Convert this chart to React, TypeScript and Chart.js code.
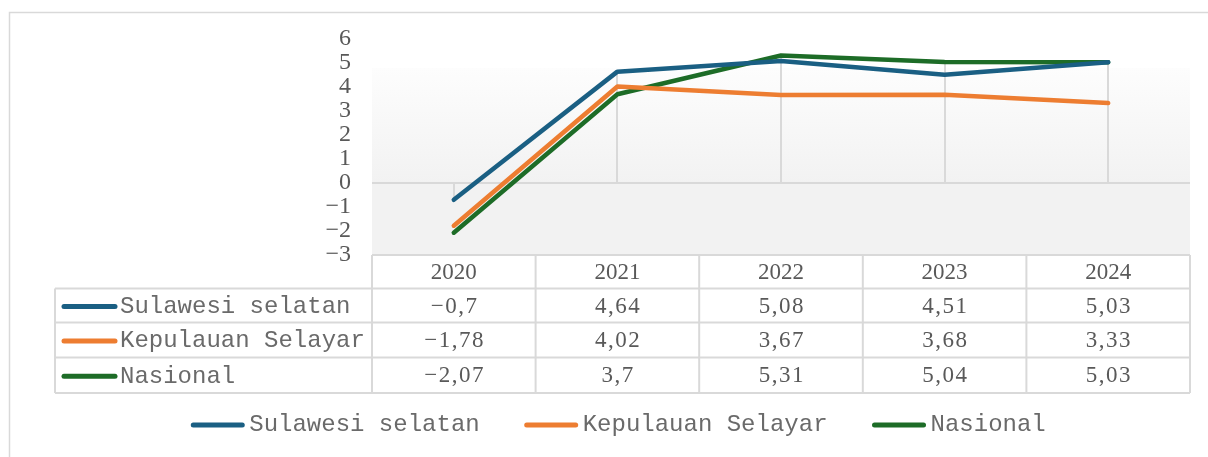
import React, { useEffect, useRef } from "react";
import { Chart, registerables } from "chart.js";

Chart.register(...registerables);

const CATEGORIES = ["2020", "2021", "2022", "2023", "2024"];
const SULSEL = [-0.7, 4.64, 5.08, 4.51, 5.03];
const SELAYAR = [-1.78, 4.02, 3.67, 3.68, 3.33];
const NASIONAL = [-2.07, 3.7, 5.31, 5.04, 5.03];
const SERIES_NAMES = ["Sulawesi selatan", "Kepulauan Selayar", "Nasional"];
const SERIES_COLORS = ["#1a5f83", "#ed7d31", "#1d6c27"];
const Y_MIN = -3;
const Y_MAX = 6;
const Y_STEP = 1;

const GRID = "#d9d9d9";
const TEXT = "#595959";
const MONO_TEXT = "#6a6a6a";
const SERIF = "'Liberation Serif', 'Times New Roman', serif";
const MONO = "'Liberation Mono', 'Courier New', monospace";

const fmt = (v: number) => String(v).replace(".", ",").replace("-", "\u2212");

const extrasPlugin = {
  id: "excelExtras",
  beforeDraw(chart: any) {
    const { ctx, chartArea: ca, scales } = chart;
    const y = scales.y;
    const y0 = y.getPixelForValue(0);
    ctx.save();
    ctx.strokeStyle = GRID;
    ctx.lineWidth = 1.5;
    ctx.strokeRect(9.5, 12.5, 1400, 800);
    const gTop = 68;
    const g = ctx.createLinearGradient(0, gTop, 0, y0);
    g.addColorStop(0, "#fdfdfd");
    g.addColorStop(1, "#f2f2f2");
    ctx.fillStyle = g;
    ctx.fillRect(ca.left, gTop, ca.right - ca.left, y0 - gTop);
    ctx.fillStyle = "#f2f2f2";
    ctx.fillRect(ca.left, y0, ca.right - ca.left, ca.bottom - y0);
    ctx.restore();
  },
  beforeDatasetsDraw(chart: any) {
    const { ctx, scales } = chart;
    const { x, y } = scales;
    const y0 = y.getPixelForValue(0);
    ctx.save();
    ctx.strokeStyle = GRID;
    ctx.lineWidth = 2;
    CATEGORIES.forEach((_, i) => {
      const mx = Math.max(...chart.data.datasets.map((d: any) => d.data[i]));
      const px = Math.round(x.getPixelForValue(i));
      ctx.beginPath();
      ctx.moveTo(px, y.getPixelForValue(mx));
      ctx.lineTo(px, y0);
      ctx.stroke();
    });
    ctx.restore();
  },
  afterDraw(chart: any) {
    const { ctx, chartArea: ca, scales } = chart;
    const { x } = scales;
    const colW = x.getPixelForValue(1) - x.getPixelForValue(0);
    const nameLeft = 55;
    const rowTops = [255, 288.5, 322.5, 357.5, 393];
    const series = [SULSEL, SELAYAR, NASIONAL];
    ctx.save();
    ctx.strokeStyle = GRID;
    ctx.lineWidth = 2;
    rowTops.forEach((t, r) => {
      ctx.beginPath();
      ctx.moveTo(r === 0 ? ca.left : nameLeft, t);
      ctx.lineTo(ca.right, t);
      ctx.stroke();
    });
    ctx.beginPath();
    ctx.moveTo(nameLeft, rowTops[1]);
    ctx.lineTo(nameLeft, rowTops[4]);
    ctx.stroke();
    for (let k = 0; k <= CATEGORIES.length; k++) {
      const vx = ca.left + k * colW;
      ctx.beginPath();
      ctx.moveTo(vx, rowTops[0]);
      ctx.lineTo(vx, rowTops[4]);
      ctx.stroke();
    }
    ctx.fillStyle = TEXT;
    ctx.textAlign = "center";
    ctx.textBaseline = "middle";
    ctx.font = `23px ${SERIF}`;
    CATEGORIES.forEach((c, i) => {
      ctx.fillText(c, x.getPixelForValue(i), (rowTops[0] + rowTops[1]) / 2 + 1);
    });
    series.forEach((vals, r) => {
      const cy = (rowTops[r + 1] + rowTops[r + 2]) / 2 + 1;
      ctx.fillStyle = TEXT;
      ctx.font = `23px ${SERIF}`;
      ctx.textAlign = "center";
      (ctx as any).letterSpacing = "1.5px";
      vals.forEach((v, i) => {
        ctx.fillText(fmt(v), x.getPixelForValue(i) + 0.75, cy);
      });
      (ctx as any).letterSpacing = "0px";
      ctx.strokeStyle = SERIES_COLORS[r];
      ctx.lineWidth = 5;
      ctx.lineCap = "round";
      ctx.beginPath();
      ctx.moveTo(64, cy);
      ctx.lineTo(115, cy);
      ctx.stroke();
      ctx.fillStyle = MONO_TEXT;
      ctx.font = `24px ${MONO}`;
      ctx.textAlign = "left";
      ctx.fillText(SERIES_NAMES[r], 120, cy);
      ctx.strokeStyle = GRID;
      ctx.lineWidth = 2;
      ctx.lineCap = "butt";
    });
    ctx.font = `24px ${MONO}`;
    const lineLen = 53;
    const gap = 5;
    const spacing = 45;
    const widths = SERIES_NAMES.map((n) => lineLen + gap + ctx.measureText(n).width);
    const total = widths.reduce((a, b) => a + b, 0) + spacing * (widths.length - 1);
    let sx = 618.5 - total / 2;
    const ly = 425;
    SERIES_NAMES.forEach((n, i) => {
      ctx.strokeStyle = SERIES_COLORS[i];
      ctx.lineWidth = 5;
      ctx.lineCap = "round";
      ctx.beginPath();
      ctx.moveTo(sx + 2, ly);
      ctx.lineTo(sx + lineLen - 2, ly);
      ctx.stroke();
      ctx.fillStyle = MONO_TEXT;
      ctx.textAlign = "left";
      ctx.textBaseline = "middle";
      ctx.fillText(n, sx + lineLen + gap, ly);
      sx += widths[i] + spacing;
    });
    ctx.restore();
  },
};

export default function App() {
  const ref = useRef<HTMLCanvasElement | null>(null);
  useEffect(() => {
    if (!ref.current) return;
    const chart = new Chart(ref.current, {
      type: "line",
      data: {
        labels: CATEGORIES,
        datasets: [SULSEL, SELAYAR, NASIONAL].map((d, i) => ({
          label: SERIES_NAMES[i],
          data: d,
          borderColor: SERIES_COLORS[i],
          backgroundColor: SERIES_COLORS[i],
          borderWidth: 4.5,
          pointRadius: 0,
          pointHoverRadius: 0,
          tension: 0,
          borderCapStyle: "round" as const,
          borderJoinStyle: "round" as const,
          clip: false as any,
        })),
      },
      options: {
        responsive: false,
        animation: false,
        devicePixelRatio: 1,
        layout: { padding: { left: 0, right: 18, top: 39, bottom: 202 } },
        plugins: { legend: { display: false }, tooltip: { enabled: false } },
        scales: {
          x: { type: "category", display: false, offset: true, grid: { display: false } },
          y: {
            min: Y_MIN,
            max: Y_MAX,
            afterFit: (s: any) => {
              s.width = 372;
            },
            border: { display: false },
            grid: {
              drawTicks: false,
              color: (c: any) => (c.tick && c.tick.value === 0 ? GRID : "rgba(0,0,0,0)"),
              lineWidth: (c: any) => (c.tick && c.tick.value === 0 ? 2 : 0),
            },
            ticks: {
              stepSize: Y_STEP,
              autoSkip: false,
              padding: 21,
              color: TEXT,
              font: { family: SERIF, size: 24 },
              callback: (v: any) => fmt(Number(v)),
            },
          },
        },
      },
      plugins: [extrasPlugin],
    });
    return () => chart.destroy();
  }, []);
  return (
    <div style={{ position: "fixed", left: 0, top: 0, width: 1208, height: 457, background: "#fff" }}>
      <canvas ref={ref} width={1208} height={457} style={{ display: "block", width: 1208, height: 457 }} />
    </div>
  );
}
